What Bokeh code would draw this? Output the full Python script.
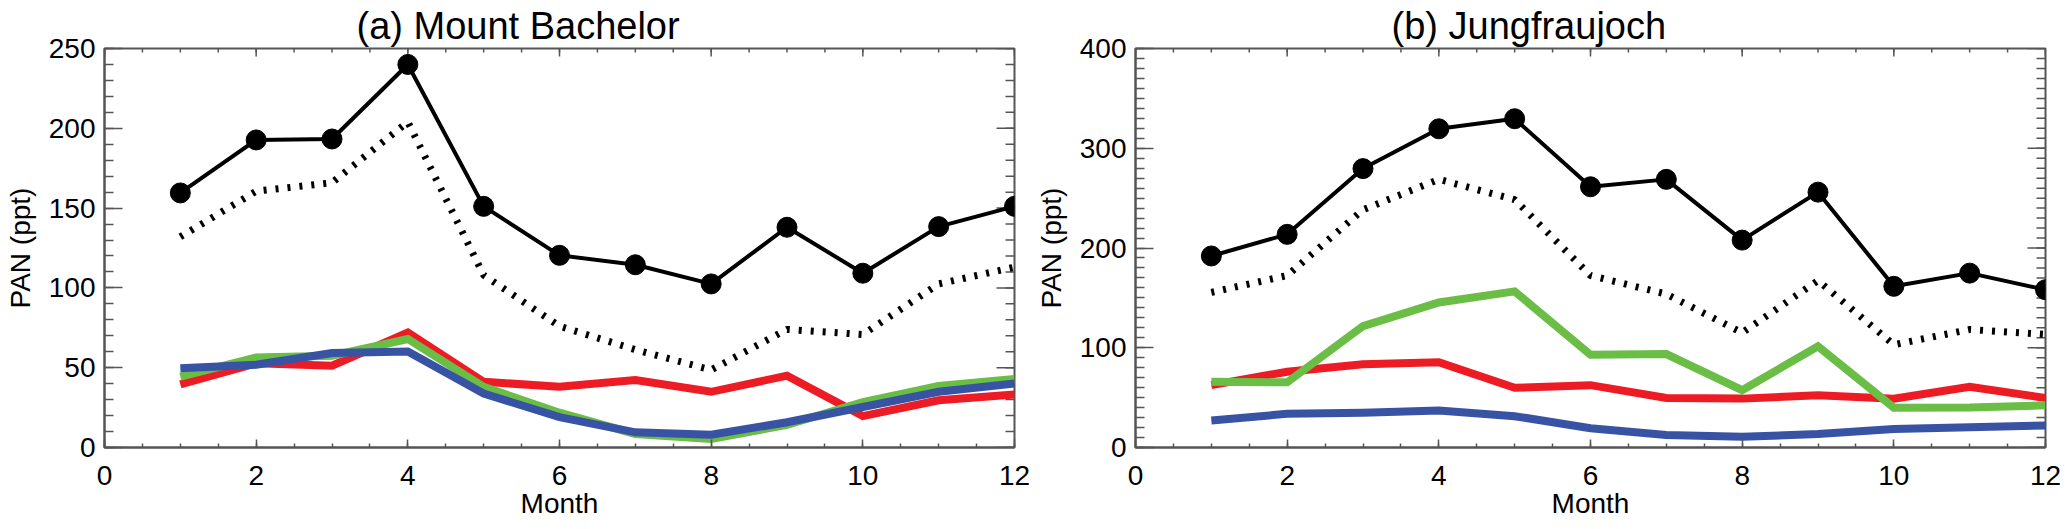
from math import pi

from bokeh.embed import file_html
from bokeh.layouts import row
from bokeh.models import FixedTicker, Range1d, Title
from bokeh.plotting import figure
from bokeh.resources import INLINE

FONT = "Liberation Sans"
FRAME = "#555555"
RED = "#ED1C24"
GREEN = "#6ABD45"
BLUE = "#3953A4"

months = [1, 2, 3, 4, 5, 6, 7, 8, 9, 10, 11, 12]
x_ticks = [0, 2, 4, 6, 8, 10, 12]
x_minor = [i * 0.5 for i in range(25)]

# (a) Mount Bachelor
mbo_total = [159.5, 192.7, 193.3, 240.0, 151.1, 120.4, 114.5, 102.5, 138.0, 109.2, 138.4, 151.1]
mbo_dotted = [132.0, 160.6, 165.9, 204.0, 108.0, 76.0, 61.3, 48.6, 74.0, 70.8, 102.5, 113.0]
mbo_red = [39.5, 52.8, 51.3, 72.0, 41.2, 38.0, 42.3, 34.9, 45.0, 19.7, 29.6, 33.2]
mbo_green = [44.4, 56.4, 57.5, 68.0, 38.0, 21.8, 8.5, 5.3, 14.2, 28.5, 38.5, 42.9]
mbo_blue = [49.7, 51.8, 59.2, 60.2, 33.8, 19.0, 9.5, 8.0, 15.8, 25.4, 34.9, 40.1]
mbo_yticks = [0, 50, 100, 150, 200, 250]

# (b) Jungfraujoch
jfj_total = [192.0, 213.7, 279.6, 319.5, 329.6, 261.4, 268.8, 207.9, 256.0, 161.6, 174.8, 158.2]
jfj_dotted = [155.5, 172.4, 238.4, 268.8, 248.5, 172.4, 153.8, 115.0, 167.4, 103.0, 118.3, 113.3]
jfj_red = [62.5, 76.0, 83.5, 85.5, 59.8, 62.5, 49.7, 49.0, 52.4, 49.0, 60.9, 49.7]
jfj_green = [65.9, 65.3, 121.7, 145.4, 156.5, 93.0, 93.7, 57.5, 101.4, 39.9, 40.0, 42.3]
jfj_blue = [27.0, 33.8, 34.8, 37.2, 31.4, 19.3, 12.5, 10.8, 13.5, 18.6, 20.3, 22.0]
jfj_yticks = [0, 100, 200, 300, 400]


def style_axis(ax, major_in, minor_in):
    ax.axis_line_color = FRAME
    ax.axis_line_width = 2
    ax.major_tick_line_color = FRAME
    ax.minor_tick_line_color = FRAME
    ax.major_tick_line_width = 1.5
    ax.minor_tick_line_width = 1.5
    ax.major_tick_in = major_in
    ax.major_tick_out = 0
    ax.minor_tick_in = minor_in
    ax.minor_tick_out = 0
    ax.major_label_text_font = FONT
    ax.major_label_text_color = "black"
    ax.major_label_text_font_size = "28px"
    ax.axis_label_text_font = FONT
    ax.axis_label_text_font_size = "28px"
    ax.axis_label_text_font_style = "normal"
    ax.axis_label_text_color = "black"


def make_panel(title, title_left, y_max, y_ticks, total, dotted, red, green, blue,
               border_left, border_right):
    p = figure(frame_width=910, frame_height=399,
               x_range=Range1d(0, 12), y_range=Range1d(0, y_max),
               output_backend="svg", toolbar_location=None, tools="",
               min_border_left=border_left, min_border_right=border_right,
               min_border_top=48, min_border_bottom=81)
    p.grid.visible = False
    p.outline_line_color = FRAME
    p.outline_line_width = 2

    y_minor = list(range(0, y_max + 1, 10))
    p.xaxis.ticker = FixedTicker(ticks=x_ticks, minor_ticks=x_minor)
    p.yaxis.ticker = FixedTicker(ticks=y_ticks, minor_ticks=y_minor)
    style_axis(p.xaxis[0], 8, 4)
    style_axis(p.yaxis[0], 18, 9)
    p.xaxis.axis_label = "Month"
    p.xaxis.major_label_standoff = 18
    p.xaxis.axis_label_standoff = 0
    p.yaxis.axis_label = "PAN (ppt)"
    p.yaxis.major_label_standoff = 9
    p.yaxis.axis_label_standoff = 10

    t = Title(text=title, align="left", offset=title_left, vertical_align="top", standoff=0,
              text_font=FONT, text_font_size="38px", text_font_style="normal",
              text_color="black")
    p.add_layout(t, "above")

    # mirrored ticks on the top and right edges of the frame
    p.ray(x=x_minor, y=[y_max] * len(x_minor), length=4, angle=-pi / 2,
          length_units="screen", line_color=FRAME, line_width=1.5)
    p.ray(x=x_ticks, y=[y_max] * len(x_ticks), length=8, angle=-pi / 2,
          length_units="screen", line_color=FRAME, line_width=1.5)
    p.ray(x=[12] * len(y_minor), y=y_minor, length=9, angle=pi,
          length_units="screen", line_color=FRAME, line_width=1.5)
    p.ray(x=[12] * len(y_ticks), y=y_ticks, length=18, angle=pi,
          length_units="screen", line_color=FRAME, line_width=1.5)

    p.line(months, total, line_color="black", line_width=4)
    p.scatter(months, total, size=20, color="black")
    p.line(months, dotted, line_color="black", line_width=7, line_dash="3 9", line_cap="butt")
    p.line(months, red, line_color=RED, line_width=8, line_join="miter")
    p.line(months, green, line_color=GREEN, line_width=8, line_join="miter")
    p.line(months, blue, line_color=BLUE, line_width=8, line_join="miter")
    return p


pa = make_panel("(a) Mount Bachelor", 252, 250, mbo_yticks,
                mbo_total, mbo_dotted, mbo_red, mbo_green, mbo_blue, 104, 16)
pb = make_panel("(b) Jungfraujoch", 256, 400, jfj_yticks,
                jfj_total, jfj_dotted, jfj_red, jfj_green, jfj_blue, 105, 18)

p = row(pa, pb)
open("out.html", "w").write(file_html(p, INLINE))
